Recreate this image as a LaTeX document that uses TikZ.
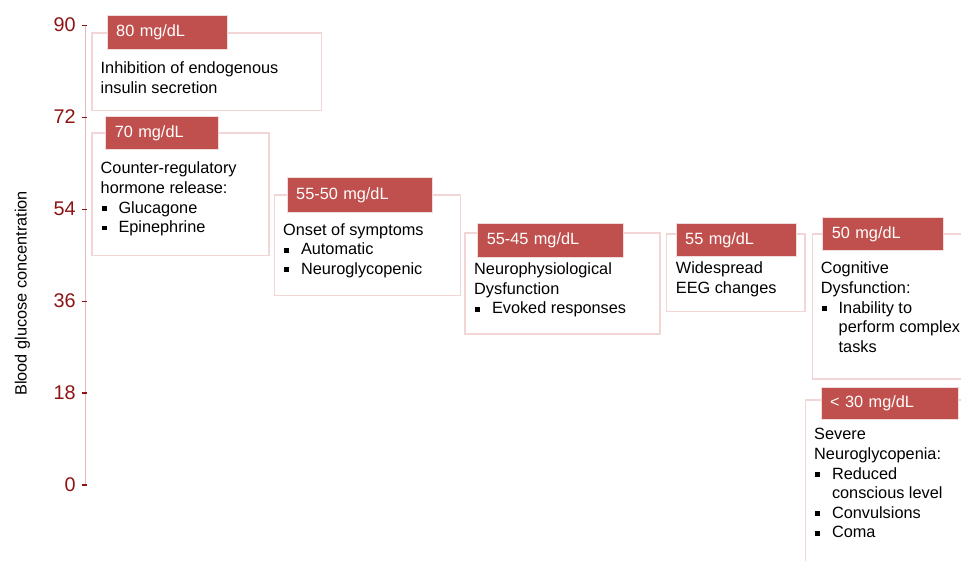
\documentclass[tikz,border=0pt]{standalone}
\usepackage{fontspec}
\setmainfont{Liberation Sans}
\definecolor{hdrred}{RGB}{192,80,77}
\definecolor{hdrline}{RGB}{242,220,219}
\definecolor{boxline}{RGB}{242,214,214}
\definecolor{axisline}{RGB}{232,186,185}
\definecolor{tickred}{RGB}{140,20,20}
\newcommand{\bodyf}{\fontsize{16.3}{19.6}\selectfont}
\newcommand{\bul}{\hspace*{1.2pt}\makebox[16.6pt][l]{\rule[2.2pt]{4.9pt}{4.9pt}}}
\newcommand{\ind}{\hspace*{17.8pt}}
\tikzset{
  panel/.style={draw=boxline, line width=1.3pt, fill=white, anchor=north west, inner sep=0pt},
  hdr/.style={draw=hdrline, line width=1pt, fill=hdrred, text=white, anchor=north west,
              inner xsep=9pt, inner ysep=0pt, align=left, font=\bodyf,
              text height=11.9pt, text depth=3.4pt},
  body/.style={anchor=north west, inner sep=0pt, align=left, font=\bodyf, text=black},
  ticklab/.style={anchor=base east, inner sep=0pt, text=tickred, font=\fontsize{19.8}{22}\selectfont},
  tickmark/.style={draw=tickred, line width=1.4pt},
  axis/.style={draw=axisline, line width=1.2pt}
}
\begin{document}
\begin{tikzpicture}[x=1pt,y=-1pt]
\clip (0,0) rectangle (961,561);
\useasboundingbox (0,0) rectangle (961,561);
\fill[white] (0,0) rectangle (961,561);

% axis
\coordinate (atop) at (85.6,25.7);
\coordinate (abot) at (85.6,485);
\draw[axis] (atop) -- (abot);
\foreach \v [count=\i from 0] in {90,72,54,36,18,0}{
  \pgfmathsetmacro{\ty}{25.7+91.86*\i}
  \node[ticklab] (tl\i) at (75.8,\ty+6) {\v};
  \draw[tickmark] (82.3,\ty) -- (86.8,\ty);
}
\node[rotate=90, anchor=base, inner sep=0pt, font=\bodyf] (ylab) at (26.7,293.3) {Blood glucose concentration};

% panels
\node[panel, minimum width=229.4pt, minimum height=77.7pt] (b1) at (91.3,32.3) {};
\node[panel, minimum width=177pt, minimum height=122.7pt] (b2) at (91.3,132.3) {};
\node[panel, minimum width=186pt, minimum height=100.7pt] (b3) at (274,194.3) {};
\node[panel, minimum width=195pt, minimum height=101pt] (b4) at (464.3,232.3) {};
\node[panel, minimum width=138.3pt, minimum height=77.7pt] (b5) at (666,233.3) {};
\node[panel, minimum width=170pt, minimum height=145pt] (b6) at (811.7,233.3) {};
\node[panel, minimum width=170pt, minimum height=180pt] (b7) at (805,399.3) {};

% headers
\node[hdr, text width=102pt, minimum height=34pt] (h1) at (106.7,15) {80 mg/dL};
\node[hdr, text width=95pt, minimum height=32.7pt] (h2) at (105.3,116.3) {70 mg/dL};
\node[hdr, text width=127pt, minimum height=34.4pt] (h3) at (286.7,177.3) {55-50 mg/dL};
\node[hdr, text width=127.4pt, minimum height=34pt] (h4) at (477.3,222.7) {55-45 mg/dL};
\node[hdr, text width=102.3pt, minimum height=33.3pt] (h5) at (675.7,222.7) {55 mg/dL};
\node[hdr, text width=102.4pt, minimum height=33pt] (h6) at (822.3,217.3) {50 mg/dL};
\node[hdr, text width=119.6pt, minimum height=32.6pt] (h7) at (820.7,386.7) {< 30 mg/dL};

% texts
\node[body] (t1) at (100.5,59.9) {\strut Inhibition of endogenous\\insulin secretion};
\node[body] (t2) at (100.5,159.9) {\strut Counter-regulatory\\hormone release:\\\bul Glucagone\\\bul Epinephrine};
\node[body] (t3) at (283,221.3) {\strut Onset of symptoms\\\bul Automatic\\\bul Neuroglycopenic};
\node[body] (t4) at (474,260.8) {\strut Neurophysiological\\Dysfunction\\\bul Evoked responses};
\node[body] (t5) at (675.7,259.9) {\strut Widespread\\EEG changes};
\node[body] (t6) at (820.7,259.9) {\strut Cognitive\\Dysfunction:\\\bul Inability to\\\ind perform complex\\\ind tasks};
\node[body] (t7) at (814,425.9) {\strut Severe\\Neuroglycopenia:\\\bul Reduced\\\ind conscious level\\\bul Convulsions\\\bul Coma};
\end{tikzpicture}
\end{document}
